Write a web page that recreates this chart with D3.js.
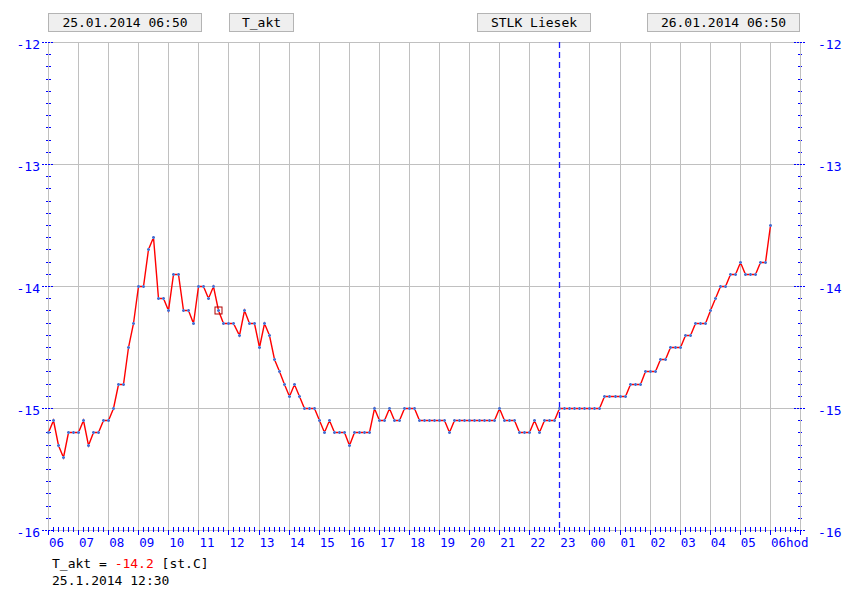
<!DOCTYPE html>
<html><head><meta charset="utf-8">
<script src="https://cdn.jsdelivr.net/npm/d3@7/dist/d3.min.js"></script>
<style>html,body{margin:0;padding:0;background:#fff;}svg{display:block;}</style>
</head><body><svg id="c" width="865" height="590"></svg>
<script>
// ---- data ----
const headerLabels = ["25.01.2014 06:50", "T_akt", "STLK Liesek", "26.01.2014 06:50"];
const hourLabels = ["06","07","08","09","10","11","12","13","14","15","16","17","18","19","20","21","22","23","00","01","02","03","04","05","06hod"];
const yTicks = [-16, -15, -14, -13, -12];
const midnightHour = 17;
const highlightIndex = 34;
const readoutText = ["T_akt = ", "-14.2", " [st.C]"];
const readoutTime = "25.1.2014 12:30";
// T_akt every 10 minutes from 25.01.2014 06:50
const values = [
 -15.2,-15.1,-15.3,-15.4,-15.2,-15.2,-15.2,-15.1,-15.3,-15.2,-15.2,-15.1,-15.1,-15.0,-14.8,-14.8,-14.5,-14.3,-14.0,-14.0,
 -13.7,-13.6,-14.1,-14.1,-14.2,-13.9,-13.9,-14.2,-14.2,-14.3,-14.0,-14.0,-14.1,-14.0,-14.2,-14.3,-14.3,-14.3,-14.4,-14.2,
 -14.3,-14.3,-14.5,-14.3,-14.4,-14.6,-14.7,-14.8,-14.9,-14.8,-14.9,-15.0,-15.0,-15.0,-15.1,-15.2,-15.1,-15.2,-15.2,-15.2,
 -15.3,-15.2,-15.2,-15.2,-15.2,-15.0,-15.1,-15.1,-15.0,-15.1,-15.1,-15.0,-15.0,-15.0,-15.1,-15.1,-15.1,-15.1,-15.1,-15.1,
 -15.2,-15.1,-15.1,-15.1,-15.1,-15.1,-15.1,-15.1,-15.1,-15.1,-15.0,-15.1,-15.1,-15.1,-15.2,-15.2,-15.2,-15.1,-15.2,-15.1,
 -15.1,-15.1,-15.0,-15.0,-15.0,-15.0,-15.0,-15.0,-15.0,-15.0,-15.0,-14.9,-14.9,-14.9,-14.9,-14.9,-14.8,-14.8,-14.8,-14.7,
 -14.7,-14.7,-14.6,-14.6,-14.5,-14.5,-14.5,-14.4,-14.4,-14.3,-14.3,-14.3,-14.2,-14.1,-14.0,-14.0,-13.9,-13.9,-13.8,-13.9,
 -13.9,-13.9,-13.8,-13.8,-13.5
];

// ---- drawing ----
const svg = d3.select("#c");
const L = 48, R = 800, T = 42, B = 530;
const x = d3.scaleLinear().domain([0, 25]).range([L, R]);
const y = d3.scaleLinear().domain([-16, -12]).range([B, T]);
const px = v => Math.round(v) + 0.5;
const mono = "'DejaVu Sans Mono', 'Liberation Mono', monospace";
const blue = "#0000ff", grid = "#c0c0c0";

// header boxes
const boxes = [[48,201],[229,293],[477,590],[647,799]];
headerLabels.forEach((t, i) => {
  const [a, b] = boxes[i];
  svg.append("rect").attr("x", a + 0.5).attr("y", 13.5).attr("width", b - a).attr("height", 18)
    .attr("fill", "#efefef").attr("stroke", "#b4b4b4");
  svg.append("text").attr("x", (a + b) / 2 + 0.5).attr("y", 27).attr("text-anchor", "middle")
    .attr("font-family", mono).attr("font-size", 13).attr("fill", "#000").text(t);
});

// vertical grid
d3.range(1, 25).filter(h => h !== midnightHour).forEach(h => {
  const xv = px(x(h));
  svg.append("line").attr("x1", xv).attr("x2", xv).attr("y1", T).attr("y2", B).attr("stroke", grid);
});
// horizontal grid
yTicks.filter(v => v > -16 && v < -12).forEach(v => {
  svg.append("line").attr("x1", L).attr("x2", R).attr("y1", px(y(v))).attr("y2", px(y(v))).attr("stroke", grid);
});
// border
svg.append("rect").attr("x", L + 0.5).attr("y", T + 0.5).attr("width", R - L).attr("height", B - T)
  .attr("fill", "none").attr("stroke", grid);
// midnight marker (blue dashed)
{
  const xv = px(x(midnightHour));
  svg.append("line").attr("x1", xv).attr("x2", xv).attr("y1", T).attr("y2", B)
    .attr("stroke", "#1a1aff").attr("stroke-width", 1.3).attr("stroke-dasharray", "6,4");
}

// y minor/major ticks
d3.range(0, 41).forEach(k => {
  const v = -16 + k / 10;
  const yy = px(y(v));
  const major = k % 10 === 0;
  svg.append("line").attr("x1", major ? 42 : 46).attr("x2", major ? 54 : 51).attr("y1", yy).attr("y2", yy)
    .attr("stroke", blue).attr("stroke-dasharray", "2,1");
  svg.append("line").attr("x1", major ? 794 : 798).attr("x2", major ? 806 : 802).attr("y1", yy).attr("y2", yy)
    .attr("stroke", blue).attr("stroke-dasharray", "2,1");
});
// y labels
yTicks.forEach(v => {
  svg.append("text").attr("x", 40).attr("y", y(v) + 7).attr("text-anchor", "end")
    .attr("font-family", mono).attr("font-size", 13).attr("fill", blue).text(v);
  svg.append("text").attr("x", 818).attr("y", y(v) + 7).attr("text-anchor", "start")
    .attr("font-family", mono).attr("font-size", 13).attr("fill", blue).text(v);
});

// x ticks
d3.range(0, 151).forEach(k => {
  const xv = px(x(k / 6));
  if (k % 6 === 0) {
    svg.append("line").attr("x1", xv).attr("x2", xv).attr("y1", 530).attr("y2", 535).attr("stroke", blue);
  } else {
    svg.append("line").attr("x1", xv).attr("x2", xv).attr("y1", 527).attr("y2", 532).attr("stroke", blue);
  }
});
// x labels
hourLabels.forEach((t, h) => {
  svg.append("text").attr("x", x(h) + 1).attr("y", 547)
    .attr("font-family", mono).attr("font-size", 12.5).attr("fill", blue).text(t);
});

// data line
const line = d3.line().x((d, i) => Math.round(x(i / 6)) + 0.5).y(d => Math.round(y(d)) + 0.5);
svg.append("path").datum(values).attr("d", line).attr("fill", "none")
  .attr("stroke", "#ff0000").attr("stroke-width", 1.4);
// markers
const mk = svg.append("g");
mk.selectAll("rect.c").data(values).join("rect").attr("class", "c")
  .attr("x", (d, i) => Math.round(x(i / 6)) - 1).attr("y", d => Math.round(y(d)) - 1)
  .attr("width", 3).attr("height", 3).attr("fill", "#9fb3e6");
mk.selectAll("path").data(values).join("path")
  .attr("d", (d, i) => {
    const cx = Math.round(x(i / 6)), cy = Math.round(y(d));
    return `M${cx - 1},${cy}h3v1h-3z M${cx},${cy - 1}h1v3h-1z`;
  })
  .attr("fill", "#4a6fd0");
// highlight
svg.append("rect").attr("x", Math.round(x(highlightIndex / 6)) - 3).attr("y", Math.round(y(values[highlightIndex])) - 3)
  .attr("width", 7).attr("height", 7).attr("fill", "none").attr("stroke", "#b00000").attr("stroke-width", 1);

// readout
const rt = svg.append("text").attr("x", 52).attr("y", 568).attr("font-family", mono).attr("font-size", 13)
  .attr("fill", "#000").attr("style", "white-space:pre");
rt.append("tspan").text(readoutText[0]);
rt.append("tspan").attr("fill", "#ff0000").text(readoutText[1]);
rt.append("tspan").text(readoutText[2]);
svg.append("text").attr("x", 52).attr("y", 585).attr("font-family", mono).attr("font-size", 13).attr("fill", "#000").text(readoutTime);
</script></body></html>
